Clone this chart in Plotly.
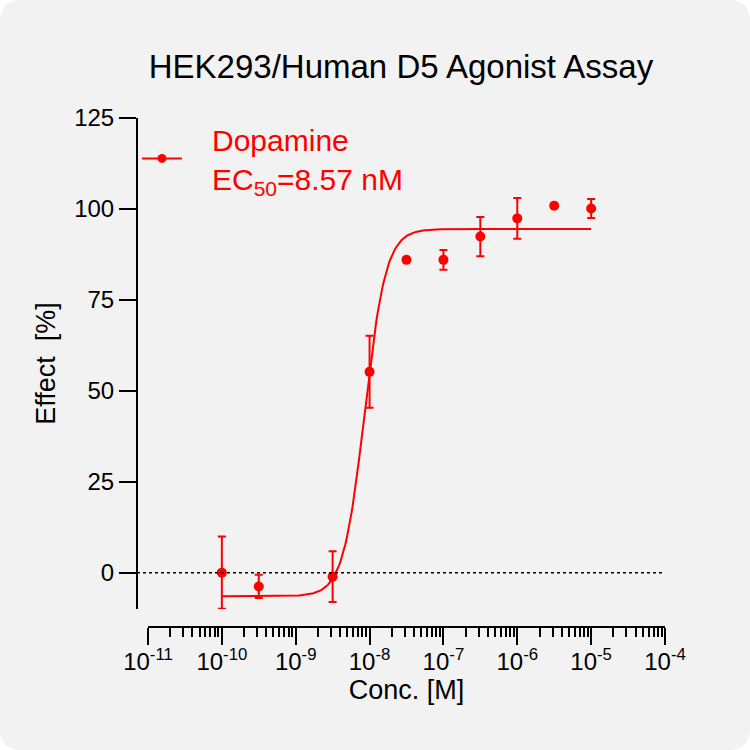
import numpy as np
import plotly.graph_objects as go

conc = [1e-10, 3.16e-10, 3.16e-9, 1e-8, 3.16e-8, 1e-7, 3.16e-7, 1e-6, 3.16e-6, 1e-5]
effect = [0.0, -3.8, -1.1, 55.2, 86.0, 86.0, 92.4, 97.4, 100.9, 100.1]
effect_sd = [9.9, 3.2, 7.0, 9.9, None, 2.7, 5.4, 5.6, None, 2.6]

# 4PL fit parameters
fit_bottom = -6.5
fit_top = 94.5
fit_ec50 = 8.57e-9
fit_hill = 3.0

x_tick_exp = [-11, -10, -9, -8, -7, -6, -5, -4]
y_ticks = [0, 25, 50, 75, 100, 125]

RED = '#ff0000'
FONT = 'Arial, Liberation Sans, sans-serif'

# fitted curve over the measured span
fit_x = np.logspace(np.log10(conc[0]), np.log10(conc[-1]), 300)
fit_y = fit_bottom + (fit_top - fit_bottom) / (1 + (fit_ec50 / fit_x) ** fit_hill)

fig = go.Figure()

fig.add_trace(go.Scatter(
    x=fit_x, y=fit_y, mode='lines',
    line=dict(color=RED, width=2),
    showlegend=False, hoverinfo='skip'
))

fig.add_trace(go.Scatter(
    x=conc, y=effect, mode='markers',
    marker=dict(color=RED, size=10),
    error_y=dict(type='data', array=effect_sd, visible=True,
                 color=RED, thickness=2, width=4),
    showlegend=False
))

# legend entry (line + marker)
fig.add_trace(go.Scatter(
    x=[None], y=[None], mode='lines+markers',
    line=dict(color=RED, width=2),
    marker=dict(color=RED, size=9),
    name='&nbsp;&nbsp;&nbsp;Dopamine<br>&nbsp;&nbsp;&nbsp;EC<sub>50</sub>=8.57 nM'
))

# dotted baseline at 0
fig.add_shape(type='line', xref='paper', yref='y', x0=0, x1=1, y0=0, y1=0,
              line=dict(color='black', width=1.5, dash='dot'))

# rounded card background
w, h = 528, 509
l, t = 137, 118
def px(xp):
    return (xp - l) / w
def py(yp):
    return (t + h - yp) / h
r = 22
path = (f"M {px(r)},{py(0)} L {px(750 - r)},{py(0)} "
        f"Q {px(750)},{py(0)} {px(750)},{py(r)} "
        f"L {px(750)},{py(750 - r)} "
        f"Q {px(750)},{py(750)} {px(750 - r)},{py(750)} "
        f"L {px(r)},{py(750)} "
        f"Q {px(0)},{py(750)} {px(0)},{py(750 - r)} "
        f"L {px(0)},{py(r)} "
        f"Q {px(0)},{py(0)} {px(r)},{py(0)} Z")
fig.add_shape(type='path', path=path, xref='paper', yref='paper',
              fillcolor='#f2f2f2', line=dict(width=0), layer='below')

minor_vals = [m * 10.0 ** e for e in x_tick_exp[:-1] for m in range(2, 10)]

fig.update_layout(
    width=750, height=750,
    margin=dict(l=l, r=750 - l - w, t=t, b=750 - t - h),
    paper_bgcolor='white',
    plot_bgcolor='rgba(0,0,0,0)',
    font=dict(family=FONT, color='black', size=24),
    title=dict(text='HEK293/Human D5 Agonist Assay', x=0.5, xref='paper',
               y=1 - 66 / 750, yref='container', yanchor='middle',
               font=dict(size=33, family=FONT, color='black')),
    xaxis=dict(
        type='log', range=[-11, -4], domain=[11 / w, 1],
        anchor='free', position=0,
        showgrid=False, zeroline=False,
        showline=True, linecolor='black', linewidth=2,
        ticks='outside', ticklen=17, tickwidth=2, tickcolor='black',
        tickvals=[10.0 ** e for e in x_tick_exp],
        ticktext=[f'10<sup>{e}</sup>' for e in x_tick_exp],
        tickfont=dict(size=24), ticklabelstandoff=-4,
        minor=dict(tickvals=minor_vals, ticks='outside', ticklen=9,
                   tickwidth=1.5, tickcolor='black', showgrid=False),
        title=dict(text='Conc. [M]', font=dict(size=27), standoff=3),
    ),
    yaxis=dict(
        range=[-10, 125], domain=[(627 - 609) / h, 1],
        anchor='free', position=0,
        showgrid=False, zeroline=False,
        showline=True, linecolor='black', linewidth=2,
        ticks='outside', ticklen=17, tickwidth=2, tickcolor='black',
        tickvals=y_ticks, tickfont=dict(size=24),
        title=dict(text='Effect  [%]', font=dict(size=27), standoff=10),
    ),
    legend=dict(x=0, xanchor='left', y=1.01, yanchor='top',
                bgcolor='rgba(0,0,0,0)', font=dict(size=30, color=RED),
                itemwidth=40),
)

fig.write_html('out.html', config={'displayModeBar': False},
               post_script="document.body.style.margin='0';")
